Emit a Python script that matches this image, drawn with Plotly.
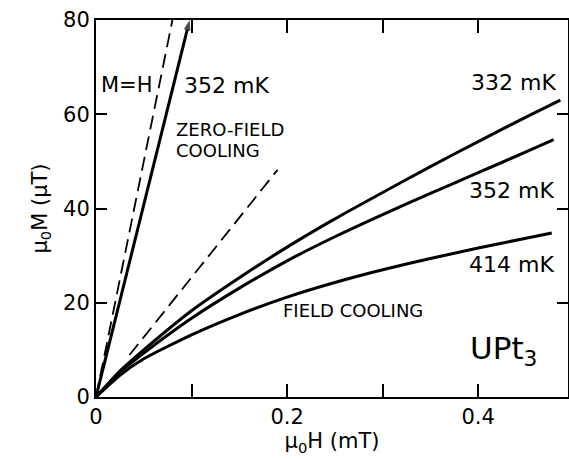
import plotly.graph_objects as go

# --- data ---
h_fc = [0, 0.025, 0.05, 0.1, 0.15, 0.2, 0.25, 0.3, 0.35, 0.4, 0.45]
m_332 = [0, 5.5, 10, 18.3, 25.3, 31.8, 37.8, 43.4, 48.9, 54.2, 59.4]
m_352 = [0, 5.2, 9.3, 16.7, 23.1, 28.9, 34, 38.7, 43.2, 47.6, 52.0]
m_414 = [0, 4.6, 8.1, 13.2, 17.5, 21.2, 24.3, 27, 29.4, 31.6, 33.7]
end_h = [0.486, 0.479, 0.477]
end_m = [63.0, 54.6, 34.8]

mh_x = [0, 0.08]
mh_y = [0, 80]
zfc_x = [0, 0.098]
zfc_y = [0, 80]
init_x = [0.035, 0.19]
init_y = [8.9, 48.2]

x_ticks = [0, 0.2, 0.4]
x_labels = ["0", "0.2", "0.4"]
x_minor = [0.1, 0.3]
y_ticks = [0, 20, 40, 60, 80]
y_labels = ["0", "20", "40", "60", "80"]

FONT = "DejaVu Sans"
fig = go.Figure()

for ys, xe, ye in zip([m_332, m_352, m_414], end_h, end_m):
    fig.add_trace(go.Scatter(x=h_fc + [xe], y=ys + [ye], mode="lines",
                             line=dict(color="black", width=3, shape="spline", smoothing=0.6),
                             showlegend=False, hoverinfo="skip"))

fig.add_trace(go.Scatter(x=mh_x, y=mh_y, mode="lines",
                         line=dict(color="black", width=1.8, dash="14px,7px"),
                         showlegend=False, hoverinfo="skip"))
fig.add_trace(go.Scatter(x=init_x, y=init_y, mode="lines",
                         line=dict(color="black", width=1.8, dash="14px,7px"),
                         showlegend=False, hoverinfo="skip"))
fig.add_trace(go.Scatter(x=zfc_x, y=zfc_y, mode="lines+markers",
                         line=dict(color="black", width=3),
                         marker=dict(symbol="arrow", size=[0, 11], angleref="previous",
                                     color="black", line=dict(width=0)),
                         showlegend=False, hoverinfo="skip", cliponaxis=False))

annos = []


def lab(x, y, t, size=22):
    annos.append(dict(x=x, y=y, xref="x", yref="y", text=t, showarrow=False,
                      xanchor="left", yanchor="middle",
                      font=dict(family=FONT, size=size, color="black")))


lab(0.003, 66.2, "M=H", 21)
lab(0.090, 66.2, "352 mK")
lab(0.082, 56.7, "ZERO-FIELD", 18)
lab(0.082, 52.4, "COOLING", 18)
lab(0.390, 66.7, "332 mK")
lab(0.388, 43.8, "352 mK")
lab(0.388, 28.1, "414 mK")
lab(0.194, 18.3, "FIELD COOLING", 18)
lab(0.389, 9.8, "UPt<sub>3</sub>", 31)

fig.update_layout(
    width=569, height=459,
    margin=dict(l=96, r=1, t=20, b=62, autoexpand=False),
    paper_bgcolor="white", plot_bgcolor="white",
    font=dict(family=FONT, size=21, color="black"),
    annotations=annos,
    xaxis=dict(range=[0, 0.494], tickvals=x_ticks, ticktext=x_labels,
               ticks="inside", ticklen=13, tickwidth=2, tickcolor="black",
               minor=dict(tickvals=x_minor, ticks="inside", ticklen=13, tickwidth=2,
                          tickcolor="black", showgrid=False),
               showline=True, linecolor="black", linewidth=2, mirror="ticks",
               showgrid=False, zeroline=False,
               tickfont=dict(family=FONT, size=21),
               title=dict(text="μ<sub>0</sub>H (mT)", standoff=4,
                          font=dict(family=FONT, size=21))),
    yaxis=dict(range=[0, 80], tickvals=y_ticks, ticktext=y_labels,
               ticks="inside", ticklen=11, tickwidth=2, tickcolor="black",
               showline=True, linecolor="black", linewidth=2, mirror="ticks",
               showgrid=False, zeroline=False,
               tickfont=dict(family=FONT, size=21),
               title=dict(text="μ<sub>0</sub>M (μT)", standoff=10,
                          font=dict(family=FONT, size=21))),
)

fig.write_html("out.html", config={"displayModeBar": False},
               post_script="document.body.style.margin='0';")
